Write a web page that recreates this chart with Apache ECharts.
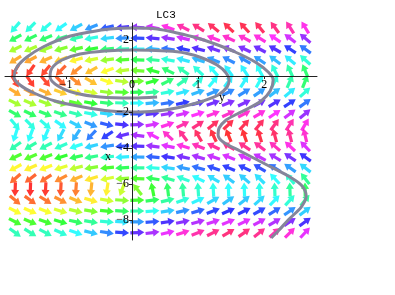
<!DOCTYPE html>
<html>
<head>
<meta charset="utf-8">
<script src="https://cdn.jsdelivr.net/npm/echarts@6/dist/echarts.min.js"></script>
<style>
  html, body { margin: 0; padding: 0; background: #fff; }
  #app { width: 395px; height: 295px; }
</style>
</head>
<body>
<div id="app"></div>
<script>
// arrow grid: column / row centres (data units)
const colX = [-1.77, -1.54, -1.31, -1.08, -0.85, -0.62, -0.38, -0.15, 0.08, 0.31,
              0.54, 0.77, 1.0, 1.23, 1.46, 1.7, 1.93, 2.16, 2.39, 2.62];
const rowY = [2.7, 2.1, 1.5, 0.9, 0.3, -0.3, -0.9, -1.5, -2.1, -2.7,
              -3.3, -3.9, -4.5, -5.1, -5.7, -6.3, -6.9, -7.5, -8.1, -8.7];

// arrow direction on screen (deg, counter-clockwise from east), one row per rowY
const arrowAngle = [
  [229,225,220,215,208,202,194,186,177,169,161,154,148,142,137,133,129,126,123,121],
  [209,206,202,199,195,191,187,183,179,174,170,166,163,159,155,152,149,146,143,140],
  [206,203,200,196,193,190,186,182,179,175,172,168,165,161,158,155,152,150,147,144],
  [212,208,204,201,196,192,188,183,178,174,169,165,161,157,153,150,146,143,140,138],
  [239,235,230,225,218,210,200,188,176,164,154,145,137,131,126,123,119,117,114,113],
  [-59,-55,-50,-45,-38,-30,-20,-8,4,16,26,36,43,49,54,57,61,63,66,68],
  [-32,-28,-24,-21,-16,-12,-8,-3,2,6,11,15,19,23,27,31,34,37,40,42],
  [-26,-23,-20,-16,-13,-10,-6,-2,1,5,8,12,15,19,22,25,28,31,33,36],
  [-29,-26,-22,-19,-15,-11,-7,-3,1,6,10,14,18,21,25,28,31,34,37,40],
  [-49,-45,-40,-35,-28,-22,-14,-6,3,11,19,26,33,38,43,47,51,54,57,59],
  [252,249,246,242,236,227,214,195,172,152,137,127,120,115,112,109,107,105,104,103],
  [215,211,207,203,199,194,189,184,178,173,168,163,158,154,150,146,143,140,137,134],
  [206,203,200,197,193,190,186,183,179,175,171,168,164,161,158,155,152,149,146,144],
  [208,204,201,198,194,190,186,183,179,175,171,167,164,160,157,154,150,148,145,142],
  [221,217,213,208,203,197,191,184,178,171,165,159,154,149,144,140,136,133,130,128],
  [268,268,267,267,266,264,261,249,128,101,97,95,94,93,92,92,92,92,92,91],
  [-40,-36,-32,-27,-22,-16,-10,-4,2,8,14,20,25,30,35,39,42,46,48,51],
  [-27,-24,-21,-17,-14,-10,-6,-3,1,5,9,13,16,20,23,26,29,32,35,37],
  [-27,-23,-20,-17,-13,-10,-6,-3,1,5,9,12,16,19,22,26,29,31,34,36],
  [-36,-32,-28,-24,-19,-14,-9,-4,2,7,13,18,22,27,31,35,38,42,45,47]
];

// arrow hue (deg) per cell
const arrowHue = [
  [173,171,174,182,194,209,227,247,268,288,307,324,337,346,351,350,345,336,323,306],
  [137,135,138,146,158,173,191,211,232,252,271,288,301,310,315,314,309,300,287,270],
  [86,84,87,95,107,122,140,160,181,201,220,237,250,259,264,263,258,249,236,219],
  [36,34,37,45,57,72,90,110,131,151,170,187,200,209,214,213,208,199,186,169],
  [6,4,7,15,27,42,60,80,101,121,140,157,170,179,184,183,178,169,156,139],
  [6,4,7,15,27,42,60,80,101,121,140,157,170,179,184,183,178,169,156,139],
  [36,34,37,45,57,72,90,110,131,151,170,187,200,209,214,213,208,199,186,169],
  [86,84,87,95,107,122,140,160,181,201,220,237,250,259,264,263,258,249,236,219],
  [137,135,138,146,158,173,191,211,232,252,271,288,301,310,315,314,309,300,287,270],
  [173,171,174,182,194,209,227,247,268,288,307,324,337,346,351,350,345,336,323,306],
  [181,179,182,190,202,217,235,255,276,296,315,332,345,354,359,358,353,344,331,314],
  [157,155,158,166,178,193,211,231,252,272,291,308,321,330,335,334,329,320,307,290],
  [111,109,112,120,132,147,165,185,206,226,245,262,275,284,289,288,283,274,261,244],
  [58,56,59,67,79,94,112,132,153,173,192,209,222,231,236,235,230,221,208,191],
  [17,15,18,26,38,53,71,91,112,132,151,168,181,190,195,194,189,180,167,150],
  [2,0,3,11,23,38,56,76,97,117,136,153,166,175,180,179,174,165,152,135],
  [19,17,20,28,40,55,73,93,114,134,153,170,183,192,197,196,191,182,169,152],
  [61,59,62,70,82,97,115,135,156,176,195,212,225,234,239,238,233,224,211,194],
  [114,112,115,123,135,150,168,188,209,229,248,265,278,287,292,291,286,277,264,247],
  [160,158,161,169,181,196,214,234,255,275,294,311,324,333,338,337,332,323,310,293]
];

// grey trajectory
const curveX = [0.379,0.015,-0.485,-0.864,-1.121,-1.242,-1.212,-1.061,-0.788,-0.409,
  0.015,0.53,0.803,1.061,1.288,1.424,1.47,1.439,1.303,1.076,0.803,0.5,0.121,-0.333,
  -0.742,-1.167,-1.485,-1.697,-1.788,-1.742,-1.591,-1.348,-0.985,-0.636,-0.333,0.015,
  0.379,0.682,0.985,1.258,1.561,1.864,2.061,2.136,2.091,1.955,1.773,1.591,1.424,1.318,
  1.303,1.379,1.636,2.015,2.364,2.561,2.636,2.561,2.379,2.212,2.106];
const curveY = [-1.167,-1.222,-1.167,-0.944,-0.556,-0.056,0.444,0.889,1.222,1.389,
  1.444,1.389,1.278,1.0,0.611,0.167,-0.222,-0.611,-1.056,-1.389,-1.667,-1.889,-2.0,-1.944,
  -1.722,-1.389,-0.944,-0.5,-0.056,0.5,1.056,1.611,2.167,2.444,2.611,2.667,
  2.611,2.389,2.111,1.778,1.333,0.778,0.222,-0.222,-0.833,-1.389,-1.778,-2.111,-2.444,-2.889,
  -3.278,-3.667,-4.167,-4.889,-5.556,-6.056,-6.667,-7.278,-7.944,-8.611,-9.0];

const xTicks = [-1, 0, 1, 2];
const yTicks = [-8, -6, -4, -2, 2];

const arrowData = [];
rowY.forEach((y, r) => {
  colX.forEach((x, c) => {
    arrowData.push({
      value: [x, y],
      symbolRotate: arrowAngle[r][c],
      itemStyle: { color: "hsl(" + arrowHue[r][c] + ",100%,50%)" },
    });
  });
});
const curveData = curveX.map((x, i) => [x, curveY[i]]);

const minus = (v) => String(v).replace("-", "\u2212");

// grid: 312 x 217 px, zero lines at x=132, y=76
const chart = echarts.init(document.getElementById("app"));
chart.setOption({
  animation: false,
  backgroundColor: "#fff",
  title: {
    text: "LC3",
    left: 151,
    top: 5,
    textStyle: { fontFamily: "Liberation Mono", fontSize: 11, fontWeight: "normal", color: "#000" },
  },
  grid: { left: 5, top: 23, width: 312, height: 217, containLabel: false, outerBoundsMode: "none" },
  xAxis: {
    type: "value",
    min: -1.924,
    max: 2.8,
    position: "bottom",
    offset: -164,
    z: 10,
    splitLine: { show: false },
    axisLine: { onZero: false, lineStyle: { color: "#222", width: 1 } },
    axisTick: { customValues: xTicks, length: 3, lineStyle: { color: "#222" } },
    axisLabel: {
      customValues: xTicks,
      formatter: minus,
      margin: 3,
      fontFamily: "Liberation Serif",
      fontSize: 12,
      color: "#000",
    },
  },
  yAxis: {
    type: "value",
    min: -9.11,
    max: 2.944,
    position: "left",
    offset: -127,
    z: 10,
    splitLine: { show: false },
    axisLine: { onZero: false, lineStyle: { color: "#222", width: 1 } },
    axisTick: { customValues: yTicks, length: 3, lineStyle: { color: "#222" } },
    axisLabel: {
      customValues: yTicks,
      formatter: minus,
      margin: 3,
      fontFamily: "Liberation Serif",
      fontSize: 12,
      color: "#000",
    },
  },
  graphic: [
    { type: "text", z: 20, left: 105, top: 151, style: { text: "x", fontFamily: "Liberation Serif", fontSize: 12, fill: "#000" } },
    { type: "text", z: 20, left: 219, top: 92, style: { text: "y", fontFamily: "Liberation Serif", fontSize: 12, fill: "#000" } },
  ],
  series: [
    {
      type: "scatter",
      symbol: "path://M0,2.4 L7.5,2.4 L7.5,0 L14,4 L7.5,8 L7.5,5.6 L0,5.6 Z",
      symbolSize: [14, 8],
      data: arrowData,
      silent: true,
      z: 1,
    },
    {
      type: "line",
      data: curveData,
      showSymbol: false,
      smooth: 0.3,
      lineStyle: { color: "#85859a", width: 3 },
      silent: true,
      z: 3,
    },
  ],
});
</script>
</body>
</html>
